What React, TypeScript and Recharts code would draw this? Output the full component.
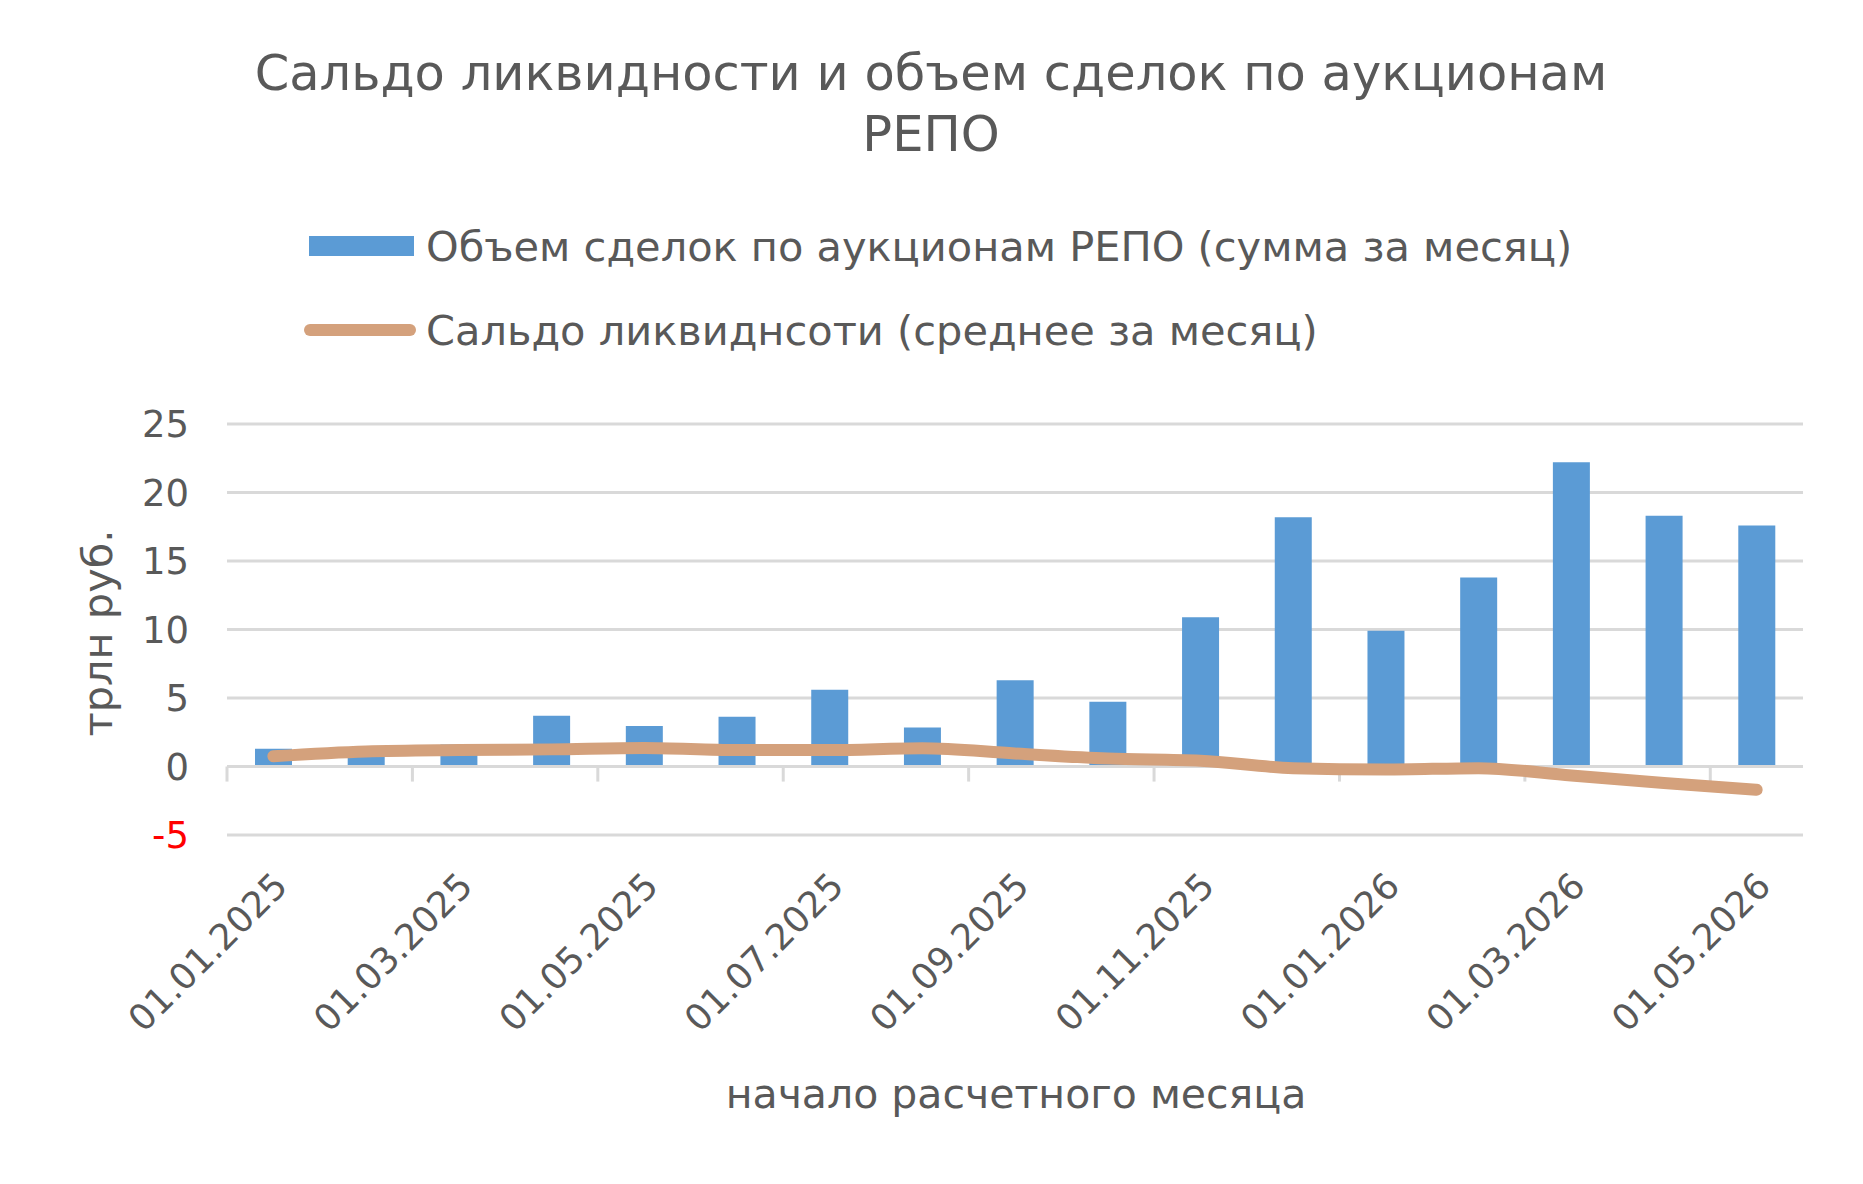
import React from 'react';
import { ComposedChart, Bar, Line, XAxis, YAxis, CartesianGrid, ReferenceLine } from 'recharts';

// months (start of the settlement month)
const months = [
  '01.01.2025', '01.02.2025', '01.03.2025', '01.04.2025', '01.05.2025', '01.06.2025',
  '01.07.2025', '01.08.2025', '01.09.2025', '01.10.2025', '01.11.2025', '01.12.2025',
  '01.01.2026', '01.02.2026', '01.03.2026', '01.04.2026', '01.05.2026',
];
// repo auction volume, monthly sum, trn rub
const repoVolume = [1.3, 1.0, 1.6, 3.7, 2.95, 3.63, 5.6, 2.85, 6.3, 4.72, 10.9, 18.2, 9.9, 13.8, 22.2, 18.3, 17.6];
// liquidity balance, monthly average, trn rub
const liquidityBalance = [0.75, 1.1, 1.2, 1.25, 1.35, 1.2, 1.2, 1.33, 0.95, 0.58, 0.42, -0.12, -0.22, -0.12, -0.66, -1.2, -1.7];

const yTicks = [-5, 0, 5, 10, 15, 20, 25];
// tick marks on the zero axis: at the left edge of every second month
const tickMarkMonths = months.filter((_, i) => i % 2 === 0);

const data = months.map((m, i) => ({ month: m, repo: repoVolume[i], liquidity: liquidityBalance[i] }));

const FONT = '"DejaVu Sans", sans-serif';
const TEXT = '#595959';
const BAR = '#5B9BD5';
const LINE = '#D4A17C';
const GRID = '#D9D9D9';

const W = 1847;
const H = 1168;

const YTick = ({ x, y, payload }: any) => (
  <text
    x={x}
    y={y}
    dy="0.36em"
    textAnchor="end"
    fontSize={37}
    fontFamily={FONT}
    fill={payload.value < 0 ? '#FF0000' : TEXT}
  >
    {payload.value}
  </text>
);

const XTick = ({ x, y, payload }: any) => (
  <text
    transform={`translate(${x + 16},${y + 53}) rotate(-45)`}
    textAnchor="end"
    fontSize={36}
    fontFamily={FONT}
    fill={TEXT}
  >
    {payload.value}
  </text>
);

export default function App() {
  return (
    <div style={{ position: 'relative', width: W, height: H, fontFamily: FONT, color: TEXT, background: '#fff' }}>
      <div
        style={{
          position: 'absolute', left: 0, width: 1846, top: 35, textAlign: 'center',
          fontSize: 49.5, lineHeight: '61px',
        }}
      >
        Сальдо ликвидности и объем сделок по аукционам
        <br />
        РЕПО
      </div>

      <div style={{ position: 'absolute', left: 296, top: 210, fontSize: 41.5 }}>
        <div style={{ display: 'flex', alignItems: 'center', height: 56 }}>
          <div style={{ width: 105, height: 20, background: BAR, marginLeft: 5, marginRight: 12 }} />
          <span>Объем сделок по аукционам РЕПО (сумма за месяц)</span>
        </div>
        <div style={{ display: 'flex', alignItems: 'center', height: 56, marginTop: 28 }}>
          <div style={{ width: 112, height: 12, borderRadius: 6, background: LINE, marginRight: 10 }} />
          <span>Сальдо ликвиднсоти (среднее за месяц)</span>
        </div>
      </div>

      <div
        style={{
          position: 'absolute', left: 89, top: 625, fontSize: 41.5, whiteSpace: 'nowrap',
          transform: 'translate(-50%, -50%) rotate(-90deg)',
        }}
      >
        трлн руб.
      </div>

      <div
        style={{
          position: 'absolute', left: 1008, top: 1086, fontSize: 41, whiteSpace: 'nowrap',
          transform: 'translate(-50%, -50%)',
        }}
      >
        начало расчетного месяца
      </div>

      <div style={{ position: 'absolute', left: 0, top: 0 }}>
        <ComposedChart width={W} height={H} data={data} margin={{ top: 416, right: 52, left: 119, bottom: 91 }}>
          <CartesianGrid vertical={false} stroke={GRID} strokeWidth={3} />
          <XAxis
            dataKey="month"
            interval={1}
            axisLine={false}
            tickLine={false}
            tickSize={0}
            tickMargin={0}
            height={250}
            tick={<XTick />}
          />
          <YAxis
            domain={[-5, 25]}
            ticks={yTicks}
            interval={0}
            axisLine={false}
            tickLine={false}
            tickSize={0}
            tickMargin={38}
            width={100}
            tick={<YTick />}
          />
          <ReferenceLine y={0} stroke={GRID} strokeWidth={3} />
          {tickMarkMonths.map((m) => (
            <ReferenceLine
              key={m}
              position="start"
              segment={[{ x: m, y: 0 }, { x: m, y: -1.1 }]}
              stroke={GRID}
              strokeWidth={3}
            />
          ))}
          <Bar dataKey="repo" fill={BAR} barSize={37} isAnimationActive={false} />
          <Line
            dataKey="liquidity"
            type="monotone"
            stroke={LINE}
            strokeWidth={12}
            strokeLinecap="round"
            dot={false}
            activeDot={false}
            isAnimationActive={false}
          />
        </ComposedChart>
      </div>
    </div>
  );
}
